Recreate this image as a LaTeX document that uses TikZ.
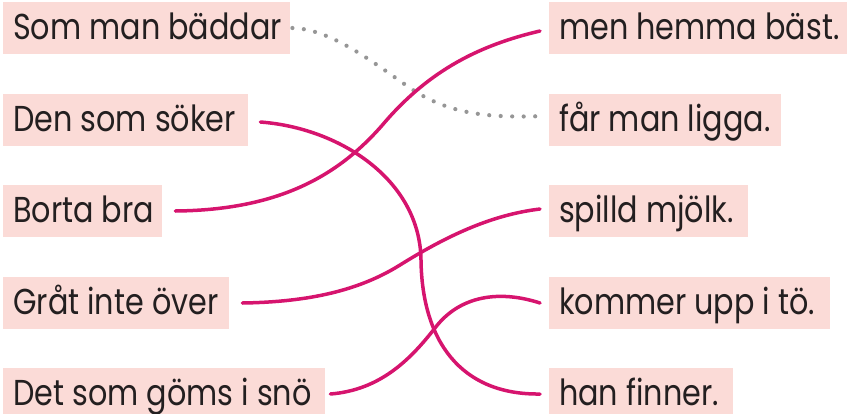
\documentclass[tikz,border=0pt]{standalone}
\usepackage{fontspec}
\setmainfont[FakeStretch=0.84]{Poppins}
\definecolor{boxpink}{RGB}{251,219,215}
\definecolor{linkpink}{RGB}{214,20,110}
\definecolor{dotgray}{RGB}{150,150,150}
\definecolor{inkgray}{RGB}{35,31,32}
\begin{document}
\begin{tikzpicture}[x=1pt,y=-1pt,
 phrase/.style={fill=boxpink, draw=none, anchor=west, minimum height=52pt,
   inner xsep=10pt, inner ysep=0pt, text height=29pt, text depth=7pt,
   font=\fontsize{36}{40}\selectfont, text=inkgray},
 link/.style={draw=linkpink, line width=3.5pt, line cap=round},
 hint/.style={draw=dotgray, line width=4.2pt, line cap=round, dash pattern=on 0pt off 11.5pt}]
\useasboundingbox (0,0) rectangle (847,413);
% left column
\node[phrase] (l1) at (3,28)  {\makebox[267pt][l]{Som man bäddar}};
\node[phrase] (l2) at (3,120) {\makebox[225pt][l]{Den som söker}};
\node[phrase] (l3) at (3,211) {\makebox[139pt][l]{Borta bra}};
\node[phrase] (l4) at (3,303) {\makebox[206pt][l]{Gråt inte över}};
\node[phrase] (l5) at (3,394) {\makebox[302pt][l]{Det som göms i snö}};
% right column
\node[phrase] (r1) at (549,28)  {\makebox[278pt][l]{men hemma bäst.}};
\node[phrase] (r2) at (549,120) {\makebox[212pt][l]{får man ligga.}};
\node[phrase] (r3) at (549,211) {\makebox[179pt][l]{spilld mjölk.}};
\node[phrase] (r4) at (549,303) {\makebox[261pt][l]{kommer upp i tö.}};
\node[phrase] (r5) at (549,394) {\makebox[164pt][l]{han finner.}};
% connectors
\draw[hint] ([xshift=2pt]l1.east) .. controls (330,29) and (370,60) .. (410,88)
  .. controls (450,115) and (490,118) .. ([xshift=-4pt,yshift=4pt]r2.west);
\draw[link] ([xshift=12pt,yshift=-2pt]l2.east) .. controls (340,128) and (420,180) .. (421,260)
  .. controls (422,340) and (460,395) .. ([xshift=-9pt]r5.west);
\draw[link] ([xshift=13pt]l3.east) .. controls (280,210) and (340,175) .. (385,122)
  .. controls (430,70) and (480,45) .. ([xshift=-9pt,yshift=-3pt]r1.west);
\draw[link] ([xshift=13pt]l4.east) .. controls (310,302) and (360,290) .. (400,265)
  .. controls (445,237) and (490,215) .. ([xshift=-9pt,yshift=2pt]r3.west);
\draw[link] ([xshift=5pt]l5.east) .. controls (380,390) and (410,360) .. (435,328)
  .. controls (460,295) and (500,290) .. ([xshift=-9pt]r4.west);
\end{tikzpicture}
\end{document}
